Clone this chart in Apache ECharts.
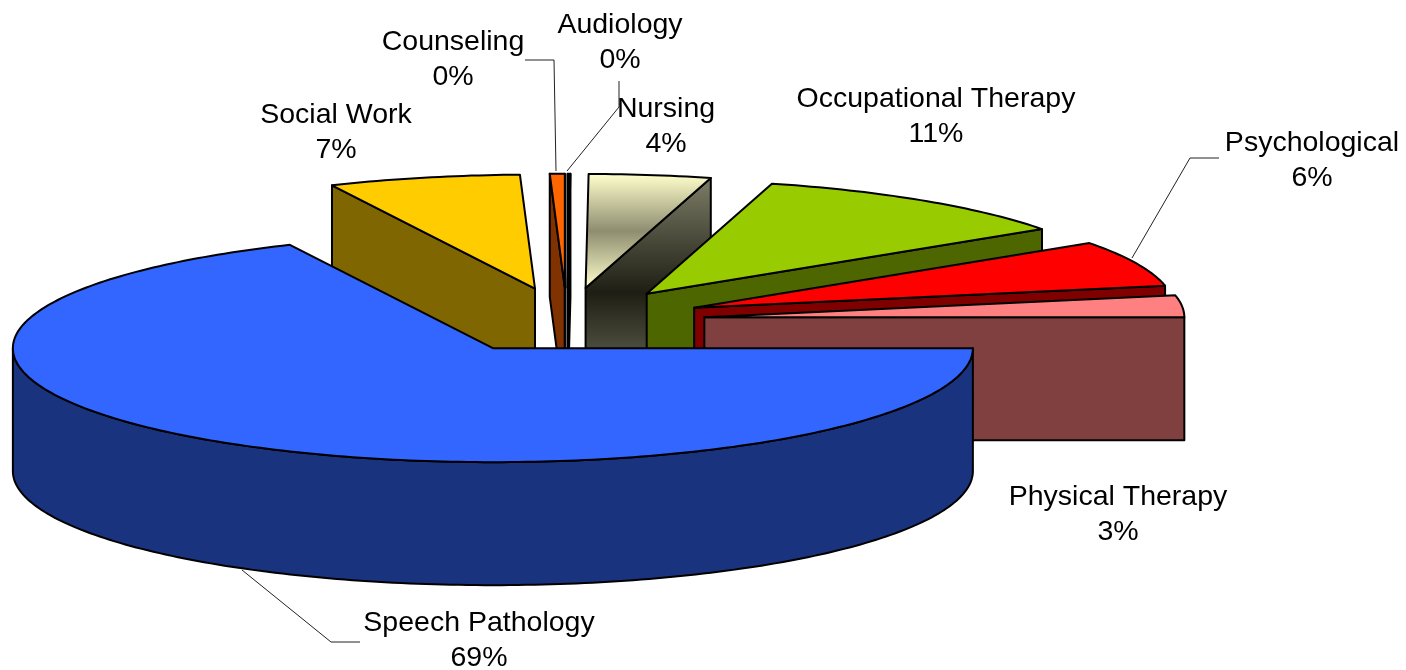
<!DOCTYPE html>
<html>
<head>
<meta charset="utf-8">
<title>Pie</title>
<style>
html, body { margin: 0; padding: 0; background: #fff; }
#chart { width: 1406px; height: 670px; }
</style>
<script src="https://cdn.jsdelivr.net/npm/echarts@6/dist/echarts.min.js"></script>
</head>
<body>
<div id="chart"></div>
<script>
// values, in drawing order going clockwise from 3 o'clock
var categories = ['Speech Pathology', 'Social Work', 'Counseling', 'Audiology', 'Nursing', 'Occupational Therapy', 'Psychological', 'Physical Therapy'];
var shares = [68.05, 6.45, 0.5, 0.1, 4.1, 11.2, 6.5, 3.1];
var percentLabels = ['69%', '7%', '0%', '0%', '4%', '11%', '6%', '3%'];

var topColors = ['#3366ff', '#ffcc00', '#ff6600', '#000000', null, '#99cc00', '#ff0000', '#ff8080'];
var wallColors = ['#1a337f', '#806600', '#803300', '#000000', null, '#4d6600', '#800000', '#804040'];

// pie geometry in pixels
var cx = 567, cy = 320.5, rx = 480, ry = 114, depth = 123, explode = 138;

// label centres and leader lines
var labelAt = [[479, 622], [336, 114], [453, 41], [620, 24], [666, 108], [936, 98], [1312, 142], [1118, 496]];
var leaders = [
    [[242, 570], [331, 642], [360, 642]],
    null,
    [[525, 60], [554, 60], [556, 171]],
    [[619, 81], [619, 107], [567, 171]],
    null,
    null,
    [[1219, 158], [1190, 158], [1132, 258]],
    null
];

var total = shares.reduce(function (a, b) { return a + b; }, 0);
var rad = Math.PI / 180;

function apexOf(a0, a1) {
    var mid = (a0 + a1) / 2 * rad;
    return [cx + explode * Math.cos(mid), cy + explode * Math.sin(mid) * ry / rx];
}
function rim(apex, a) {
    return [apex[0] + rx * Math.cos(a * rad), apex[1] + ry * Math.sin(a * rad)];
}
function down(p) {
    return [p[0], p[1] + depth];
}
function nursingTop(apex) {
    return new echarts.graphic.LinearGradient(0, apex[1] - ry, 0, apex[1], [
        { offset: 0, color: '#ffffcc' },
        { offset: 0.5, color: '#8e8d70' },
        { offset: 1, color: '#ffffcc' }
    ], true);
}
function nursingWall(apex) {
    return new echarts.graphic.LinearGradient(0, apex[1] - ry, 0, apex[1] + depth, [
        { offset: 0, color: '#80806a' },
        { offset: 0.5, color: '#1e1e14' },
        { offset: 1, color: '#80806a' }
    ], true);
}

function renderSlice(params, api) {
    var i = params.dataIndex;
    var before = 0;
    for (var k = 0; k < i; k++) before += shares[k];
    var a0 = before / total * 360;
    var a1 = (before + api.value(0)) / total * 360;
    var apex = apexOf(a0, a1);
    var z = i === 0 ? 50 : i + 1;
    var top = topColors[i] || nursingTop(apex);
    var wall = wallColors[i] || nursingWall(apex);
    var children = [];

    function face(points, fill) {
        children.push({
            type: 'polygon',
            z2: z,
            shape: { points: points },
            style: { fill: fill, stroke: '#000', lineWidth: 2, lineJoin: 'round' }
        });
    }
    function cutWall(a) {
        var p = rim(apex, a);
        face([apex, p, down(p), down(apex)], wall);
    }

    // cut faces only show when they turn towards the viewer
    if (Math.cos(a0 * rad) < 0) cutWall(a0);
    if (Math.cos(a1 * rad) > 0) cutWall(a1);

    // outer wall, front half only
    if (a0 < 180) {
        var pts = [], bottom = [];
        for (var a = a0; a <= Math.min(a1, 180); a += 1) {
            var p = rim(apex, a);
            pts.push(p);
            bottom.unshift(down(p));
        }
        face(pts.concat(bottom), wall);
    }

    var topPts = [apex];
    var steps = Math.max(2, Math.ceil(a1 - a0));
    for (var s = 0; s <= steps; s++) {
        topPts.push(rim(apex, a0 + (a1 - a0) * s / steps));
    }
    face(topPts, top);

    return { type: 'group', children: children };
}

function renderLabel(params, api) {
    var i = params.dataIndex;
    var at = labelAt[i];
    var children = [{
        type: 'text',
        z2: 100,
        style: {
            x: at[0],
            y: at[1] - 16,
            text: categories[i] + '\n' + percentLabels[i],
            align: 'center',
            verticalAlign: 'top',
            lineHeight: 34.5,
            fontFamily: '"Liberation Sans", Arial, sans-serif',
            fontSize: 28.5,
            fill: '#000'
        }
    }];
    if (leaders[i]) {
        children.push({
            type: 'polyline',
            z2: 90,
            shape: { points: leaders[i] },
            style: { fill: 'none', stroke: '#222', lineWidth: 1 }
        });
    }
    return { type: 'group', children: children };
}

var chart = echarts.init(document.getElementById('chart'), null, { renderer: 'canvas' });
var sliceData = shares.map(function (v, i) { return { name: categories[i], value: [v] }; });

chart.setOption({
    animation: false,
    backgroundColor: '#fff',
    series: [{
        type: 'custom',
        coordinateSystem: 'none',
        silent: true,
        renderItem: renderSlice,
        data: sliceData
    }, {
        type: 'custom',
        coordinateSystem: 'none',
        silent: true,
        z: 5,
        renderItem: renderLabel,
        data: sliceData
    }]
});
</script>
</body>
</html>
